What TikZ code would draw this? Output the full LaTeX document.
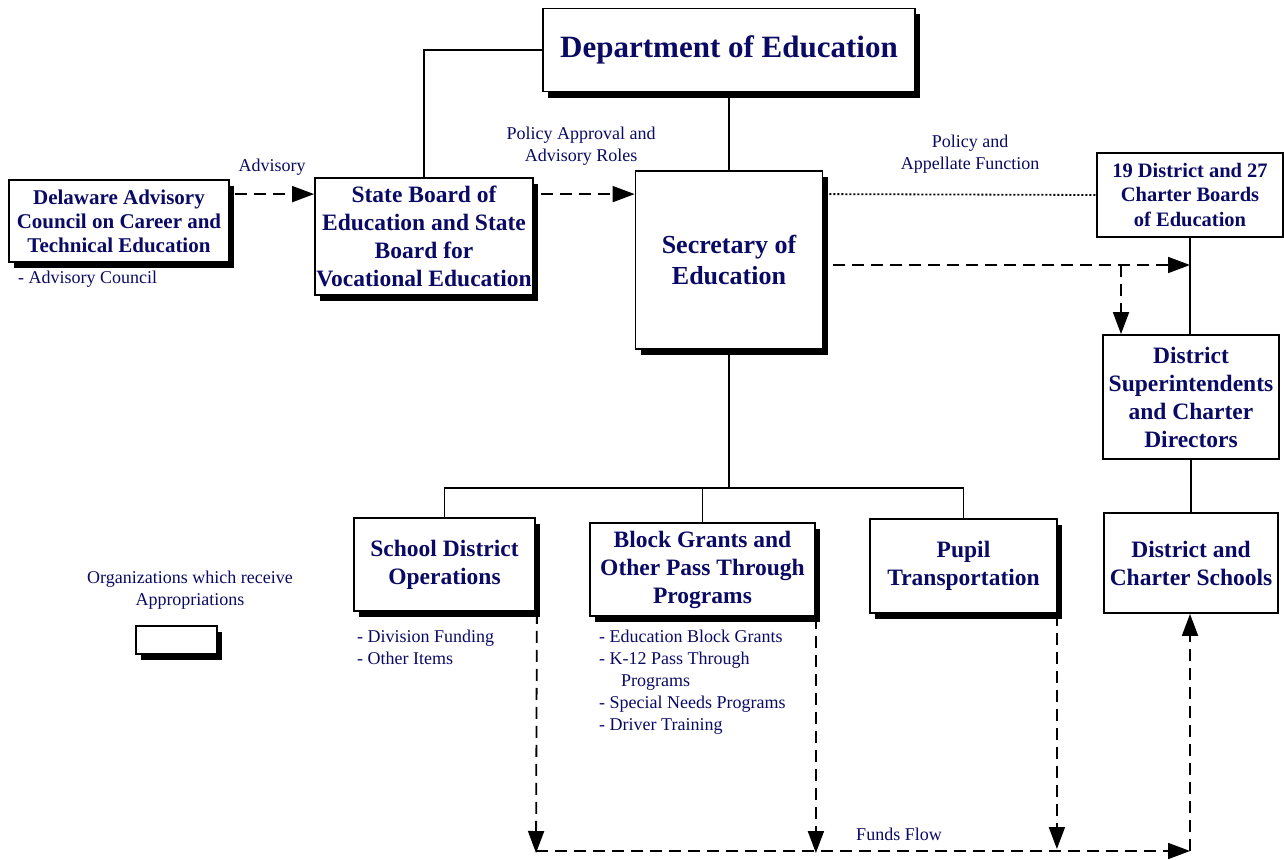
\documentclass[tikz,border=0pt]{standalone}
\usepackage{fontspec}
\setmainfont{Liberation Serif}
\usetikzlibrary{arrows.meta,shadows}
\definecolor{navy}{RGB}{10,10,100}
\tikzset{
  box/.style={draw=black,line width=1.8pt,fill=white,inner sep=0pt,align=center,text=navy,
    font=\fontsize{23.5}{28}\selectfont\bfseries},
  shad/.style={drop shadow={shadow xshift=5pt,shadow yshift=-6pt,fill=black,opacity=1}},
  lab/.style={text=navy,inner sep=0pt,align=center,font=\fontsize{18}{21.5}\selectfont},
  lst/.style={text=navy,inner sep=0pt,align=left,font=\fontsize{18}{22}\selectfont},
  conn/.style={line width=1.8pt},
  dasharrow/.style={line width=1.8pt,dash pattern=on 12pt off 7pt,-{Triangle[length=22pt,width=16pt]}},
  dotline/.style={line width=1.8pt,dash pattern=on 2pt off 2pt}
}
\begin{document}
\begin{tikzpicture}[x=1pt,y=-1pt]
\useasboundingbox (0,0) rectangle (1284,859);
% boxes
\node[box,shad,minimum width=372pt,minimum height=83pt,font=\fontsize{31}{34}\selectfont\bfseries] (dept) at (729,50) {Department of Education};
\node[box,shad,minimum width=220pt,minimum height=82pt,font=\fontsize{21}{24}\selectfont\bfseries] (dac) at (119,221) {Delaware Advisory\\Council on Career and\\Technical Education};
\node[box,shad,minimum width=218pt,minimum height=117pt] (sb) at (424,236.5) {State Board of\\Education and State\\Board for\\Vocational Education};
\node[box,shad,minimum width=187pt,minimum height=178pt,font=\fontsize{26}{31}\selectfont\bfseries] (sec) at (729,260) {Secretary of\\Education};
\node[box,minimum width=186pt,minimum height=84pt,font=\fontsize{20.5}{24.5}\selectfont\bfseries] (boards) at (1190,195) {19 District and 27\\Charter Boards\\of Education};
\node[box,minimum width=176pt,minimum height=124pt] (sup) at (1191,397) {District\\Superintendents\\and Charter\\Directors};
\node[box,minimum width=174pt,minimum height=100pt] (schools) at (1191,563) {District and\\Charter Schools};
\node[box,shad,minimum width=181pt,minimum height=93pt] (sdo) at (444.5,564.5) {School District\\Operations};
\node[box,shad,minimum width=225pt,minimum height=93pt] (bg) at (702.5,569.5) {Block Grants and\\Other Pass Through\\Programs};
\node[box,shad,minimum width=187pt,minimum height=94pt] (pupil) at (963.5,566) {Pupil\\Transportation};
\node[box,shad,minimum width=81pt,minimum height=28pt] (legend) at (176.5,640) {};
% labels
\node[lst,anchor=west] (dacl) at (18,279) {- Advisory Council};
\node[lab] (advl) at (272,167) {Advisory};
\node[lab] (pal) at (581,146) {Policy Approval and\\Advisory Roles};
\node[lab] (pafl) at (970,154) {Policy and\\Appellate Function};
\node[lab] (orgl) at (190,590) {Organizations which receive\\Appropriations};
\node[lst,anchor=west] (sdol) at (357,647) {- Division Funding\\- Other Items};
\node[lst,anchor=west] (bgl) at (599,682) {- Education Block Grants\\- K-12 Pass Through\\\hspace*{22pt}Programs\\- Special Needs Programs\\- Driver Training};
\node[lab] (ffl) at (899,834) {Funds Flow};
% solid connectors
\draw[conn] (dept.west) -| (sb.north);
\draw[conn] (dept.south) -- (sec.north);
\coordinate (bus) at (729,488);
\draw[conn] (sec.south) -- (bus);
\draw[conn] (sdo.north) |- (bus) -| (pupil.north);
\draw[conn] (bg.north) -- (bg.north |- bus);
\draw[conn] (boards.south) -- (boards.south |- sup.north);
\draw[conn] (sup.south) -- (sup.south |- schools.north);
% dashed / dotted
\draw[dasharrow] ([shift={(5,15)}]dac.north east) -- ([shift={(0,17)}]sb.north west);
\draw[dasharrow] ([shift={(7,17)}]sb.north east) -- ([shift={(0,24)}]sec.north west);
\draw[dotline] ([shift={(6,24)}]sec.north east) -- (boards.west);
\coordinate (tipr) at (1190,265);
\coordinate (branch) at (1121,265);
\draw[dasharrow] ([shift={(10,5)}]sec.east) -- (tipr);
\draw[dasharrow] (branch) -- (branch |- sup.north);
% funds flow
\coordinate (fl) at (536,851);
\coordinate (fr) at (1190,851);
\draw[dasharrow] ([shift={(1,0)}]sdo.south east) -- ([yshift=-2pt]fl);
\draw[dasharrow] (bg.south east) -- ([yshift=-2pt]bg.south east |- fl);
\draw[dasharrow] ([shift={(-1,0)}]pupil.south east) -- ([shift={(-1,-2)}]pupil.south east |- fl);
\draw[dasharrow] (fl) -- (fr);
\draw[dasharrow] (fr) -- (fr |- schools.south);
\end{tikzpicture}
\end{document}
